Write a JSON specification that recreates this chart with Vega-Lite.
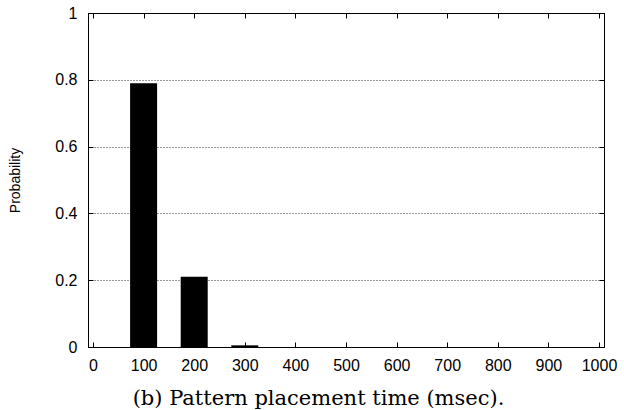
{
  "$schema": "https://vega.github.io/schema/vega-lite/v6.json",
  "width": 516,
  "height": 334,
  "autosize": "none",
  "padding": {"left": 88, "top": 13, "right": 20, "bottom": 63},
  "background": "white",
  "data": {"values": [
    {"time": 100, "prob": 0.79},
    {"time": 200, "prob": 0.21},
    {"time": 300, "prob": 0.005}
  ]},
  "config": {
    "view": {"stroke": "black", "strokeWidth": 1},
    "axis": {
      "domainColor": "black",
      "tickColor": "black",
      "tickSize": -5,
      "labelFont": "Liberation Sans",
      "labelFontSize": 16,
      "labelColor": "black"
    }
  },
  "layer": [
    {
      "mark": {"type": "bar", "color": "black", "width": 27},
      "encoding": {
        "x": {
          "field": "time", "type": "quantitative",
          "scale": {"domain": [0, 1000], "nice": false},
          "axis": {
            "orient": "bottom",
            "values": [0, 100, 200, 300, 400, 500, 600, 700, 800, 900, 1000],
            "format": "d",
            "labelPadding": 15,
            "grid": false,
            "title": "(b) Pattern placement time (msec).",
            "titleFont": "DejaVu Serif",
            "titleFontSize": 21,
            "titleFontWeight": "normal",
            "titleColor": "black",
            "titleX": 230,
            "titleY": 57,
            "titleBaseline": "alphabetic",
            "titleAlign": "center"
          }
        },
        "y": {
          "field": "prob", "type": "quantitative",
          "scale": {"domain": [0, 1], "nice": false},
          "axis": {
            "orient": "left",
            "values": [0, 0.2, 0.4, 0.6, 0.8, 1],
            "format": "~g",
            "labelPadding": 16,
            "grid": true,
            "gridColor": "#333",
            "gridDash": [1, 2],
            "gridWidth": 1,
            "title": "Probability",
            "titleFont": "Liberation Sans",
            "titleFontSize": 14,
            "titleFontWeight": "normal",
            "titleColor": "black",
            "titleX": -73,
            "titleY": 167,
            "titleAlign": "center",
            "titleBaseline": "middle"
          }
        }
      }
    },
    {
      "mark": {"type": "point", "opacity": 0},
      "encoding": {
        "x": {
          "field": "time", "type": "quantitative",
          "axis": {
            "orient": "top",
            "values": [0, 100, 200, 300, 400, 500, 600, 700, 800, 900, 1000],
            "labels": false, "grid": false, "title": null
          }
        },
        "y": {
          "field": "prob", "type": "quantitative",
          "axis": {
            "orient": "right",
            "values": [0, 0.2, 0.4, 0.6, 0.8, 1],
            "labels": false, "grid": false, "title": null
          }
        }
      }
    }
  ],
  "resolve": {"axis": {"x": "independent", "y": "independent"}}
}
